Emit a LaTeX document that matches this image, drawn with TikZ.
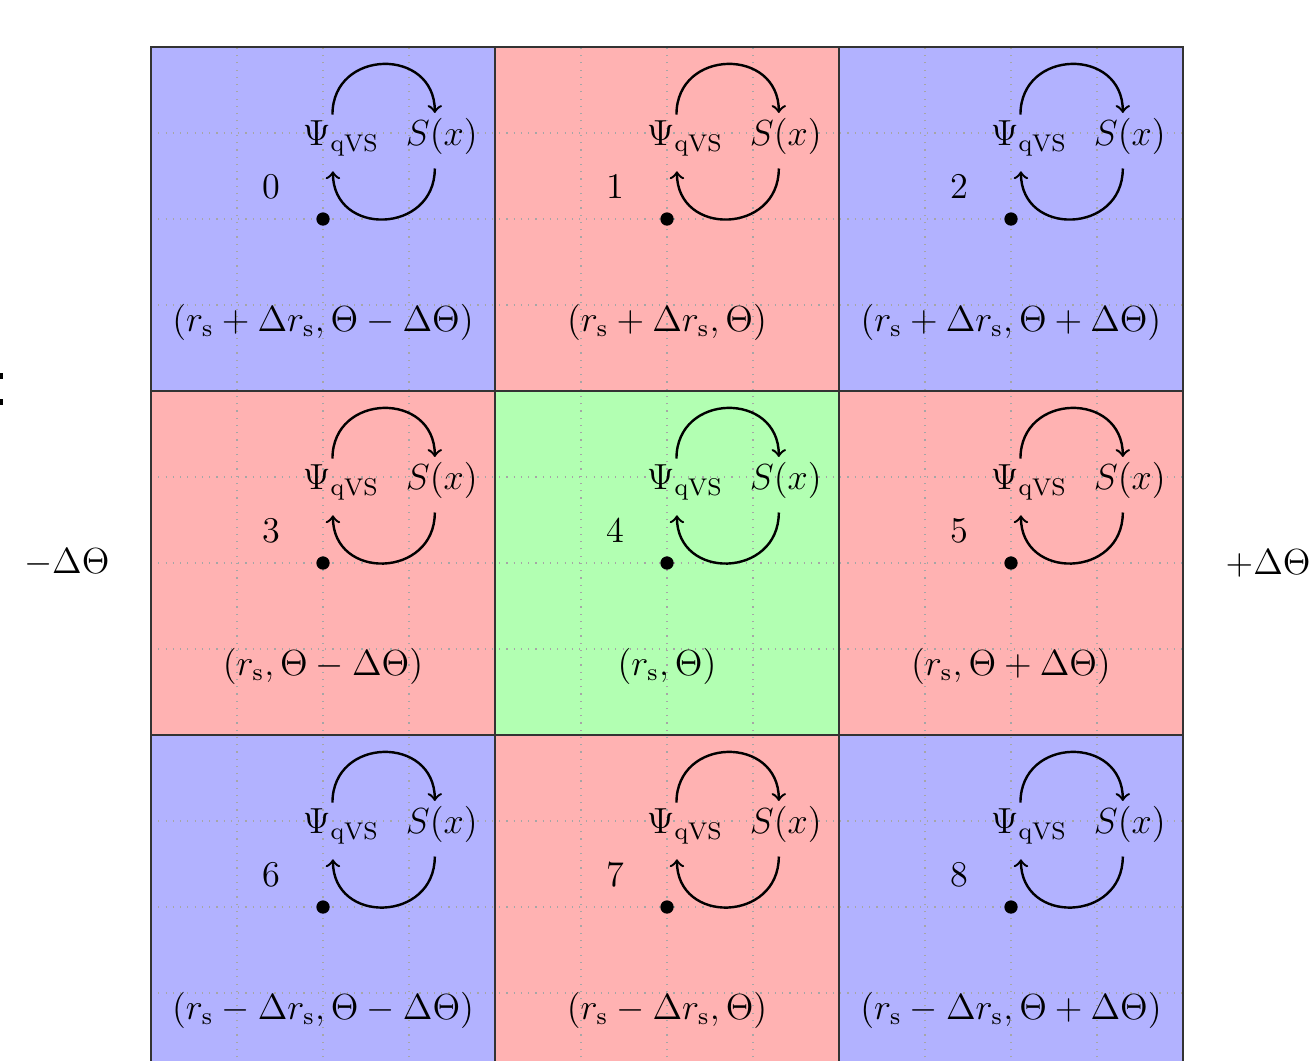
\documentclass[tikz,border=0pt]{standalone}
\usepackage{amsmath}
\begin{document}
\begin{tikzpicture}[
  txt/.style={font=\large, inner sep=0pt},
  dotnode/.style={circle, fill=black, inner sep=0pt, minimum size=4.4pt},
  loop/.style={->, thick, looseness=1.65},
  gridline/.style={gray!70, dotted},
  cellborder/.style={draw=black!80, line width=0.5pt}
]
\useasboundingbox (-1.756,0.21) rectangle (13.465,12.547);
% cell fills
\foreach \n/\col in {0/blue,1/red,2/blue,3/red,4/green,5/red,6/blue,7/red,8/blue}{
  \pgfmathtruncatemacro\cx{mod(\n,3)}
  \pgfmathtruncatemacro\cy{int(\n/3)}
  \fill[\col!30] (4*\cx,8-4*\cy) rectangle ++(4,4);
}
\draw[gridline] (0,0) grid (12,12);
\foreach \n in {0,...,8}{
  \pgfmathtruncatemacro\cx{mod(\n,3)}
  \pgfmathtruncatemacro\cy{int(\n/3)}
  \draw[cellborder] (4*\cx,8-4*\cy) rectangle ++(4,4);
}
% cell contents
\foreach \n/\lab in {
  0/{(r_\mathrm{s}+\Delta r_\mathrm{s},\Theta-\Delta\Theta)},
  1/{(r_\mathrm{s}+\Delta r_\mathrm{s},\Theta)},
  2/{(r_\mathrm{s}+\Delta r_\mathrm{s},\Theta+\Delta\Theta)},
  3/{(r_\mathrm{s},\Theta-\Delta\Theta)},
  4/{(r_\mathrm{s},\Theta)},
  5/{(r_\mathrm{s},\Theta+\Delta\Theta)},
  6/{(r_\mathrm{s}-\Delta r_\mathrm{s},\Theta-\Delta\Theta)},
  7/{(r_\mathrm{s}-\Delta r_\mathrm{s},\Theta)},
  8/{(r_\mathrm{s}-\Delta r_\mathrm{s},\Theta+\Delta\Theta)}}{
  \pgfmathtruncatemacro\cx{mod(\n,3)}
  \pgfmathtruncatemacro\cy{int(\n/3)}
  \begin{scope}[shift={(4*\cx,8-4*\cy)}]
    \node[dotnode] (dot\n) at (2,2) {};
    \node[txt] (num\n) at (1.395,2.38) {$\n$};
    \node[txt, anchor=base] (psi\n) at (2.21,2.85) {$\Psi_{\mathrm{qVS}}$};
    \node[txt, anchor=base] (sx\n) at (3.38,2.85) {$S(x)$};
    \node[txt] (pos\n) at (2,0.8) {$\lab$};
    \draw[loop] ([shift={(-0.1,0.07)}]psi\n.north) to[out=90,in=90] ([shift={(-0.08,0.06)}]sx\n.north);
    \draw[loop] ([shift={(-0.08,-0.15)}]sx\n.south) to[out=-90,in=-90] ([shift={(-0.095,-0.17)}]psi\n.south);
  \end{scope}
}
\node[txt] (minus) at (-0.98,6) {$-\Delta\Theta$};
\node[txt] (plus) at (12.99,6) {$+\Delta\Theta$};
% cut-off marks at the left edge
\fill[black] (-1.756,8.21) rectangle (-1.72,8.14);
\fill[black] (-1.756,7.91) rectangle (-1.72,7.84);
\end{tikzpicture}
\end{document}
